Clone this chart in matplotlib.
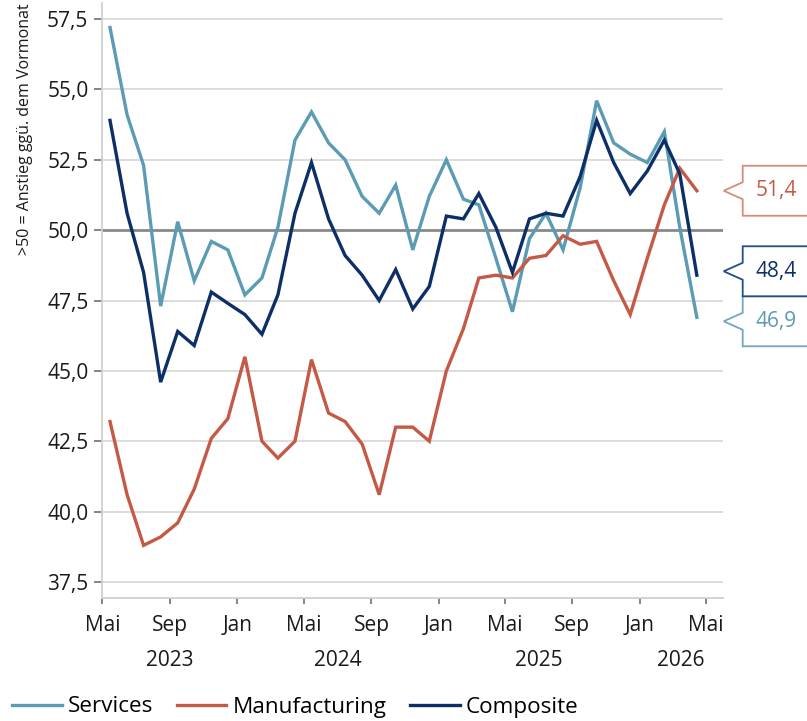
import numpy as np
import pandas as pd
import matplotlib
matplotlib.use("Agg")
import matplotlib.pyplot as plt
import matplotlib.dates as mdates
from matplotlib.patches import Polygon
from matplotlib.ticker import FuncFormatter, FixedLocator

plt.rcParams['font.family'] = ['Open Sans', 'DejaVu Sans']

# monthly PMI values, Mai 2023 - Apr 2026
months = pd.date_range('2023-05-01', '2026-04-01', freq='MS') + pd.Timedelta(days=14)

services = [57.2, 54.1, 52.3, 47.3, 50.3, 48.2, 49.6, 49.3, 47.7, 48.3, 50.1, 53.2,
            54.2, 53.1, 52.5, 51.2, 50.6, 51.6, 49.3, 51.2, 52.5, 51.1, 50.9, 49.0,
            47.1, 49.7, 50.6, 49.3, 51.5, 54.6, 53.1, 52.7, 52.4, 53.5, 50.1, 46.9]
manufacturing = [43.2, 40.6, 38.8, 39.1, 39.6, 40.8, 42.6, 43.3, 45.5, 42.5, 41.9, 42.5,
                 45.4, 43.5, 43.2, 42.4, 40.6, 43.0, 43.0, 42.5, 45.0, 46.5, 48.3, 48.4,
                 48.3, 49.0, 49.1, 49.8, 49.5, 49.6, 48.2, 47.0, 49.0, 50.9, 52.2, 51.4]
composite = [53.9, 50.6, 48.5, 44.6, 46.4, 45.9, 47.8, 47.4, 47.0, 46.3, 47.7, 50.6,
             52.4, 50.4, 49.1, 48.4, 47.5, 48.6, 47.2, 48.0, 50.5, 50.4, 51.3, 50.1,
             48.5, 50.4, 50.6, 50.5, 51.9, 53.9, 52.4, 51.3, 52.1, 53.2, 52.0, 48.4]

series_names = ['Services', 'Manufacturing', 'Composite']
colors = ['#5b9bb4', '#c45a45', '#0b2f66']
box_edges = ['#6fa8c0', '#d98a7c', '#1f4e8c']
month_names = {1: 'Jan', 5: 'Mai', 9: 'Sep'}
years = [2023, 2024, 2025, 2026]

W, H = 807, 721
fig = plt.figure(figsize=(W / 100, H / 100), dpi=100)
ax = fig.add_axes([102.3 / W, 1 - 597.7 / H, 620.4 / W, 594.4 / H])

for vals, name, c in zip([services, manufacturing, composite], series_names, colors):
    ax.plot(months, vals, color=c, lw=2.4, label=name, solid_joinstyle='miter')

x0, x1 = pd.Timestamp('2023-05-01'), pd.Timestamp('2026-06-01')
ax.set_xlim(x0, x1)
ax.set_ylim(36.94, 58.06)

ax.set_yticks(np.arange(37.5, 57.6, 2.5))
ax.yaxis.set_major_formatter(FuncFormatter(lambda v, p: f'{v:.1f}'.replace('.', ',')))
ax.yaxis.grid(True, color='#d9d9d9', lw=1.3)
ax.set_axisbelow(True)
ax.axhline(50, color='#8a8a8a', lw=2, zorder=1.5)

ticks = pd.date_range('2023-05-01', '2026-05-01', freq='4MS')
ax.set_xticks(ticks)
ax.set_xticklabels([month_names[t.month] for t in ticks])
jans = [mdates.date2num(t) for t in ticks if t.month == 1]
ax.xaxis.set_minor_locator(FixedLocator(jans))

ax.tick_params(axis='both', labelsize=15, colors='#707070', labelcolor='#1a1a1a')
ax.tick_params(axis='x', which='major', length=4, width=1.2, pad=8.5)
ax.tick_params(axis='x', which='minor', length=8, width=1.2)
ax.tick_params(axis='y', length=6, width=1.2, pad=4)

for s in ['top', 'right']:
    ax.spines[s].set_visible(False)
for s in ['left', 'bottom']:
    ax.spines[s].set_color('#d0d0d0')
    ax.spines[s].set_linewidth(1.3)

# year labels centred on the visible part of each year
for y in years:
    a = max(pd.Timestamp(f'{y}-01-01'), x0)
    b = min(pd.Timestamp(f'{y + 1}-01-01'), x1)
    mid = a + (b - a) / 2
    ax.text(mid, -0.106, str(y), transform=ax.get_xaxis_transform(),
            ha='center', va='center', fontsize=15, color='#1a1a1a')

fig.text(25 / W, 1 - 3 / H, '>50 = Anstieg ggü. dem Vormonat', rotation=90,
         ha='center', va='top', fontsize=11.5, color='#1a1a1a')

fig.legend(loc='center left', bbox_to_anchor=(12 / W, 1 - 707 / H), ncol=3,
           frameon=False, fontsize=16.2, handlelength=2.2, handletextpad=0.28,
           columnspacing=1.05, borderpad=0, borderaxespad=0)

# value callouts at the right edge, spread apart where they overlap
last = [services[-1], manufacturing[-1], composite[-1]]
box_h = 50  # px
ypx = {i: ax.transData.transform((0, v))[1] for i, v in enumerate(last)}
order = sorted(ypx, key=lambda i: ypx[i])
pos = [ypx[i] for i in order]
for _ in range(20):
    for k in range(len(pos) - 1):
        if pos[k + 1] - pos[k] < box_h:
            m = (pos[k] + pos[k + 1]) / 2
            pos[k], pos[k + 1] = m - box_h / 2, m + box_h / 2
centers = dict(zip(order, pos))

xr = ax.transAxes.transform((1, 0))[0]
for i in [1, 0, 2]:
    yc = centers[i]
    bx = xr + 20
    verts = [(xr + 1, yc), (bx, yc - 8.5), (bx, yc - 25), (W + 20, yc - 25),
             (W + 20, yc + 25), (bx, yc + 25), (bx, yc + 8.5)]
    verts = [(vx / W, vy / H) for vx, vy in verts]
    fig.patches.append(Polygon(verts, closed=True, transform=fig.transFigure,
                               facecolor='white', edgecolor=box_edges[i], lw=1.3))
    fig.text(776 / W, yc / H, f'{last[i]:.1f}'.replace('.', ','), ha='center',
             va='center', fontsize=15, color=colors[i])

fig.savefig('out.png', dpi=100)
